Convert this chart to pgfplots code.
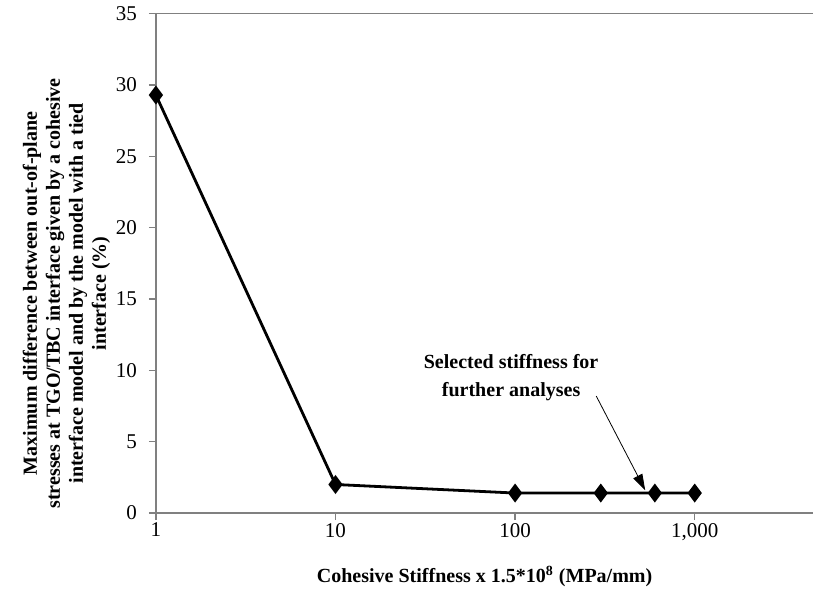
\documentclass[border=0pt]{standalone}
\usepackage{fontspec}
\setmainfont{Liberation Serif}
\usepackage{pgfplots}
\pgfplotsset{compat=1.18}
\usetikzlibrary{arrows.meta}

\begin{document}
\begin{tikzpicture}
\begin{axis}[
    width=328.5pt, height=249.5pt,
    scale only axis,
    xmode=log,
    xmin=1, xmax=4575,
    ymin=0, ymax=35,
    axis x line*=bottom,
    axis y line*=left,
    axis line style={gray, line width=0.7pt},
    tick style={gray, line width=0.7pt},
    tick align=outside,
    major tick length=3.5pt,
    xminorticks=false,
    xtick={1,10,100,1000},
    xticklabels={1,10,100,{1,000}},
    ytick={0,5,...,35},
    /pgf/number format/assume math mode=true,
    tick label style={font=\fontsize{10.5}{12}\selectfont},
    xticklabel style={yshift=2pt},
    yticklabel style={xshift=-2.5pt},
    xlabel={Cohesive Stiffness x 1.5*10\textsuperscript{8} (MPa/mm)},
    xlabel style={font=\fontsize{10}{12}\selectfont\bfseries, yshift=-6pt},
    ylabel={Maximum difference between out-of-plane\\stresses at TGO/TBC interface given by a cohesive\\interface model and by the model with a tied\\interface (\%)},
    every axis y label/.style={at={(ticklabel cs:0.44,-4pt)}, rotate=90, anchor=near ticklabel,
        align=center, font=\fontsize{10}{11.5}\selectfont\bfseries},
    clip=false,
]
\addplot[black, line width=1.4pt, mark=diamond*, mark size=3.6pt,
    mark options={solid, fill=black}]
    coordinates {(1,29.3) (10,2.0) (100,1.4) (300,1.4) (600,1.4) (1000,1.4)};
\draw[gray, line width=0.7pt] (rel axis cs:0,1) -- (rel axis cs:1,1);
\node[align=center, font=\fontsize{10}{14}\selectfont\bfseries]
    at (axis cs:95,9.5) {Selected stiffness for\\further analyses};
\draw[black, line width=0.4pt, -{Triangle[width=5pt,length=8pt]}]
    (axis cs:283,8.2) -- (axis cs:530,1.6);
\end{axis}
\path ([xshift=-8pt]current bounding box.west) -- (current bounding box.west);
\end{tikzpicture}
\end{document}
